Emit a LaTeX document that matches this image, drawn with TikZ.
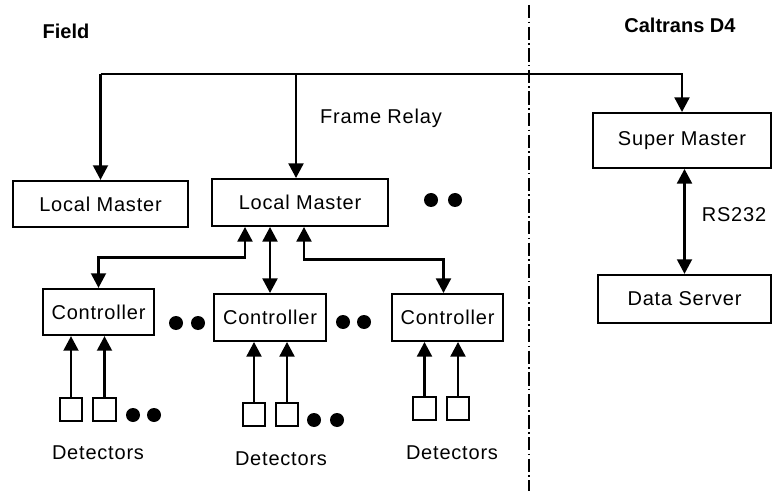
\documentclass[tikz,border=0pt]{standalone}
\usepackage{fontspec}
\setmainfont{Liberation Sans}
\newfontfamily\spacedfont[LetterSpace=4]{Liberation Sans}
\usetikzlibrary{arrows.meta,calc}
\begin{document}
\begin{tikzpicture}[x=0.75pt,y=-0.75pt,
  box/.style={draw,line width=1.6pt,inner sep=0pt,font=\spacedfont\fontsize{15}{18}\selectfont},
  detbox/.style={draw,line width=1.6pt,inner sep=0pt,minimum width=17pt,minimum height=17pt},
  conn/.style={line width=2.2pt,-{Triangle[length=11pt,width=11pt]}},
  biconn/.style={line width=2.2pt,{Triangle[length=11pt,width=11pt]}-{Triangle[length=11pt,width=11pt]}},
  txt/.style={inner sep=0pt,font=\spacedfont\fontsize{15}{18}\selectfont},
  head/.style={inner sep=0pt,font=\fontsize{15}{18}\selectfont\bfseries},
  blob/.style={circle,fill,inner sep=0pt,minimum size=10.5pt},
  divider/.style={line width=1.2pt,dash pattern=on 10pt off 2.5pt on 1.2pt off 2.5pt}]
\useasboundingbox (0,0) rectangle (773,491);

% region headings and the boundary between them
\node[head] (field) at (66,31) {Field};
\node[head] (caltrans) at (680,25) {Caltrans D4};
\coordinate (divtop) at (529,5);
\coordinate (divbot) at (529,491);
\draw[divider] (divtop) -- (divbot);

% masters and server
\node[box,minimum width=131pt,minimum height=34.5pt] (lm1) at (100.5,204) {Local Master};
\node[box,minimum width=132pt,minimum height=35pt] (lm2) at (300,202.5) {Local Master};
\node[box,minimum width=134pt,minimum height=41pt] (sm) at (682,140.5) {Super Master};
\node[box,minimum width=130pt,minimum height=36pt] (ds) at (684.5,299) {Data Server};

% controllers
\node[box,minimum width=83pt,minimum height=34.5pt] (c1) at (98.5,312) {Controller};
\node[box,minimum width=84pt,minimum height=35pt] (c2) at (270,317.5) {Controller};
\node[box,minimum width=83pt,minimum height=35pt] (c3) at (447.5,317.5) {Controller};

% detectors
\node[detbox] (d1a) at (71,409.5) {};
\node[detbox] (d1b) at (104.5,409.5) {};
\node[detbox] (d2a) at (254,414.5) {};
\node[detbox] (d2b) at (287,414.5) {};
\node[detbox] (d3a) at (424.5,408.5) {};
\node[detbox] (d3b) at (458,408.5) {};

% labels
\node[txt] (fr) at (381,118) {Frame Relay};
\node[txt] (rs) at (734,215) {RS232};
\node[txt] (l1) at (98,453) {Detectors};
\node[txt] (l2) at (281,459) {Detectors};
\node[txt] (l3) at (452,453) {Detectors};

% ellipsis dots
\node[blob] (e1) at (431,200) {};
\node[blob] (e2) at (455,200) {};
\node[blob] (e3) at (176,323) {};
\node[blob] (e4) at (198,323) {};
\node[blob] (e5) at (343,322) {};
\node[blob] (e6) at (364,322) {};
\node[blob] (e7) at (133,415) {};
\node[blob] (e8) at (154,415) {};
\node[blob] (e9) at (314,420) {};
\node[blob] (e10) at (337,420) {};

% frame relay network
\coordinate (bus) at (100.5,74);
\draw[conn] (bus) -- (lm1.north);
\draw[conn] (bus) -| (sm.north);
\draw[conn] ([xshift=-3pt]lm2.north |- bus) -- ([xshift=-3pt]lm2.north);

% super master to data server
\draw[biconn] (sm.south -| ds.north) -- (ds.north);

% local master to controllers
\draw[biconn] ($(lm2.south)+(-55,0)$) -- ++(0,31) -| (c1.north);
\draw[biconn] (lm2.south -| c2.north) -- (c2.north);
\draw[biconn] ($(lm2.south)+(4,0)$) -- ++(0,33) -| ([xshift=-3pt]c3.north);

% detectors to controllers
\foreach \d/\c in {d1a/c1,d1b/c1,d2a/c2,d2b/c2,d3a/c3,d3b/c3}
  \draw[conn] (\d.north) -- (\d.north |- \c.south);
\end{tikzpicture}
\end{document}
